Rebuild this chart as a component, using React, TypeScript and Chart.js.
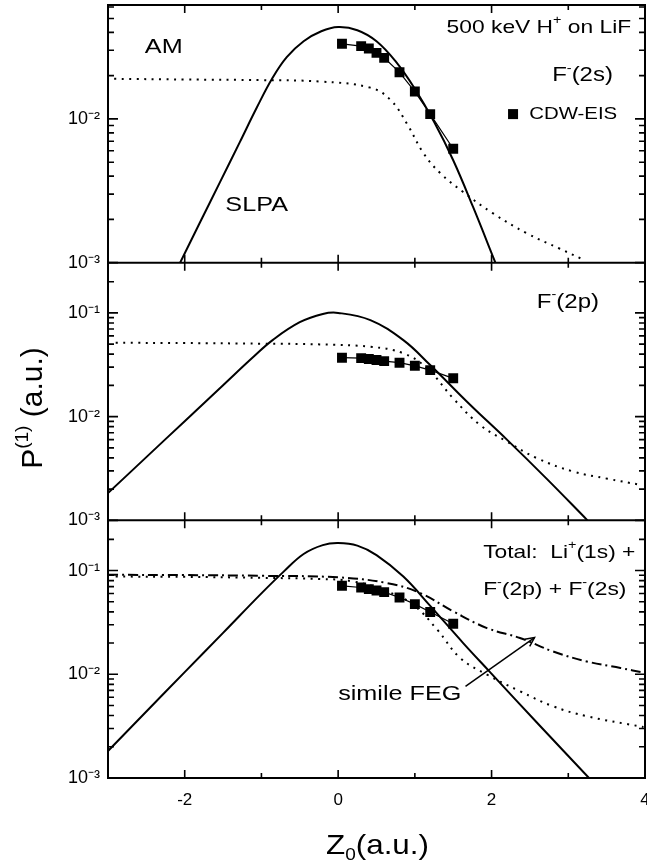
import React, { useEffect, useRef } from 'react';
import { Chart, registerables } from 'chart.js';

Chart.register(...registerables);

const FONT = '"Liberation Sans", Arial, Helvetica, sans-serif';

// x axis
const xMin = -3;
const xMax = 4;

// CDW-EIS abscissae (shared by all panels)
const cdwX = [0.05, 0.3, 0.4, 0.5, 0.6, 0.8, 1.0, 1.2, 1.5];

// Panel 1: F-(2s)
const slpa2sX = [-2.06, -1.8, -1.54, -1.28, -1.06, -0.86, -0.67, -0.45, -0.22, 0.0, 0.25, 0.5, 0.75, 1.0, 1.25, 1.5, 1.76, 2.05];
const slpa2sY = [0.001, 0.00191, 0.00363, 0.00692, 0.012, 0.0191, 0.0269, 0.0347, 0.0407, 0.0435, 0.0414, 0.0347, 0.0251, 0.0162, 0.00955, 0.00516, 0.00243, 0.001];
const am2sX = [-2.92, -2.0, -1.0, -0.24, 0.42, 0.68, 0.9, 1.11, 1.33, 1.63, 2.02, 2.46, 2.89, 3.18];
const am2sY = [0.019, 0.0188, 0.0186, 0.0182, 0.0165, 0.0136, 0.0092, 0.0058, 0.0042, 0.0031, 0.0022, 0.0016, 0.00125, 0.00106];
const cdw2sY = [0.0333, 0.0321, 0.0309, 0.0288, 0.0266, 0.0211, 0.0155, 0.0108, 0.0062];

// Panel 2: F-(2p)
const slpa2pX = [-3.0, -2.5, -2.0, -1.5, -1.1, -0.85, -0.5, -0.2, 0.0, 0.42, 0.85, 1.2, 1.72, 2.2, 2.72, 3.25];
const slpa2pY = [0.00183, 0.00407, 0.00904, 0.0201, 0.038, 0.055, 0.0813, 0.0977, 0.1, 0.0851, 0.0546, 0.0314, 0.013, 0.006, 0.00251, 0.001];
const am2pX = [-2.9, -2.0, -1.0, -0.24, 0.42, 0.85, 1.16, 1.5, 1.85, 2.2, 2.59, 3.06, 3.51, 3.94];
const am2pY = [0.0515, 0.0512, 0.0505, 0.0497, 0.0471, 0.0408, 0.0292, 0.015, 0.0083, 0.00575, 0.00398, 0.00296, 0.00252, 0.0022];
const cdw2pY = [0.037, 0.0366, 0.0359, 0.0351, 0.0343, 0.0331, 0.0309, 0.0281, 0.0234];

// Panel 3: Total
const slpaTotX = [-3.0, -2.5, -2.0, -1.5, -1.0, -0.71, -0.45, -0.2, 0.0, 0.25, 0.5, 0.85, 1.2, 1.63, 1.98, 2.59, 3.27];
const slpaTotY = [0.00182, 0.00437, 0.0105, 0.0251, 0.0603, 0.0977, 0.1445, 0.176, 0.184, 0.174, 0.141, 0.0875, 0.0457, 0.02, 0.0105, 0.00343, 0.001];
const amTotX = [-2.9, -2.0, -1.0, -0.24, 0.2, 0.64, 0.98, 1.29, 1.59, 1.94, 2.37, 2.8, 3.24, 3.98];
const amTotY = [0.0875, 0.087, 0.085, 0.083, 0.0784, 0.0628, 0.0467, 0.027, 0.0144, 0.00993, 0.00687, 0.00492, 0.00394, 0.0031];
const fegX = [-3.0, -2.0, -1.0, 0.0, 0.64, 1.07, 1.5, 1.94, 2.37, 2.8, 3.24, 3.68, 4.0];
const fegY = [0.091, 0.0905, 0.089, 0.086, 0.0757, 0.0607, 0.0404, 0.0279, 0.0224, 0.0166, 0.0133, 0.0115, 0.0103];
const cdwTotY = [0.0713, 0.0687, 0.0663, 0.0643, 0.0619, 0.055, 0.0475, 0.0398, 0.0307];

// y-axis ranges
const yMin = 0.001;
const yMax2s = 0.062;
const yMax2p = 0.305;
const yMaxTot = 0.305;

const pts = (xs: number[], ys: number[]) => xs.map((x, i) => ({ x, y: ys[i] }));

const curve = (xs: number[], ys: number[], axis: string, dash: number[]) => ({
  data: pts(xs, ys), yAxisID: axis, showLine: true, borderColor: '#000', borderWidth: 2,
  borderDash: dash, pointRadius: 0, tension: 0.4, fill: false,
});
const squares = (xs: number[], ys: number[], axis: string) => ({
  data: pts(xs, ys), yAxisID: axis, showLine: true, borderColor: '#000', borderWidth: 1.2,
  pointStyle: 'rect', pointRadius: 7, pointBorderWidth: 0, pointBackgroundColor: '#000', fill: false,
});

type Seg = { t: string; s?: 'sup' | 'sub' };

function drawRich(ctx: CanvasRenderingContext2D, segs: Seg[], x: number, y: number, size: number,
  align: 'left' | 'right' | 'center', stretch = 1.2, rotate = 0) {
  ctx.save();
  ctx.translate(x, y);
  if (rotate) ctx.rotate(rotate);
  ctx.scale(stretch, 1);
  ctx.fillStyle = '#000';
  ctx.textBaseline = 'middle';
  ctx.textAlign = 'left';
  const fontFor = (s: Seg) => `${s.s ? Math.round(size * 0.62) : size}px ${FONT}`;
  const widths = segs.map((s) => { ctx.font = fontFor(s); return ctx.measureText(s.t).width; });
  const total = widths.reduce((a, b) => a + b, 0);
  let cx = align === 'left' ? 0 : align === 'right' ? -total : -total / 2;
  segs.forEach((s, i) => {
    ctx.font = fontFor(s);
    const dy = s.s === 'sup' ? -size * 0.36 : s.s === 'sub' ? size * 0.32 : 0;
    ctx.fillText(s.t, cx, dy);
    cx += widths[i];
  });
  ctx.restore();
}

// annotation placement (data coordinates of each panel)
const labels = [
  { axis: 'y1', x: -2.52, y: 0.0314, segs: [{ t: 'AM' }], size: 21, align: 'left' },
  { axis: 'y1', x: -1.47, y: 0.00251, segs: [{ t: 'SLPA' }], size: 21, align: 'left' },
  { axis: 'y1', x: 3.82, y: 0.0433, segs: [{ t: '500 keV H' }, { t: '+', s: 'sup' }, { t: ' on LiF' }], size: 19, align: 'right' },
  { axis: 'y1', x: 2.79, y: 0.02, segs: [{ t: 'F' }, { t: '-', s: 'sup' }, { t: '(2s)' }], size: 20, align: 'left' },
  { axis: 'y1', x: 2.49, y: 0.0108, segs: [{ t: 'CDW-EIS' }], size: 17, align: 'left' },
  { axis: 'y2', x: 2.59, y: 0.127, segs: [{ t: 'F' }, { t: '-', s: 'sup' }, { t: '(2p)' }], size: 20, align: 'left' },
  { axis: 'y3', x: 1.89, y: 0.148, segs: [{ t: 'Total:  Li' }, { t: '+', s: 'sup' }, { t: '(1s) +' }], size: 19, align: 'left' },
  { axis: 'y3', x: 1.89, y: 0.0652, segs: [{ t: 'F' }, { t: '-', s: 'sup' }, { t: '(2p) + F' }, { t: '-', s: 'sup' }, { t: '(2s)' }], size: 19, align: 'left' },
  { axis: 'y3', x: 0.0, y: 0.00638, segs: [{ t: 'simile FEG' }], size: 21, align: 'left' },
];
const legendMark = { axis: 'y1', x: 2.28, y: 0.0108 };
const arrow = { axis: 'y3', x0: 1.66, y0: 0.00764, x1: 2.56, y1: 0.0226 };

const framePlugin = {
  id: 'frame',
  afterDraw(chart: any) {
    const { ctx, chartArea: ca, scales } = chart;
    const xs = scales.x;
    const panels = [scales.y1, scales.y2, scales.y3];
    ctx.save();
    ctx.strokeStyle = '#000';
    ctx.lineWidth = 2;
    ctx.strokeRect(ca.left, ca.top, ca.right - ca.left, ca.bottom - ca.top);
    panels.forEach((p: any) => {
      ctx.beginPath(); ctx.moveTo(ca.left, p.bottom); ctx.lineTo(ca.right, p.bottom); ctx.stroke();
    });
    ctx.lineWidth = 1.6;
    // x ticks
    panels.forEach((p: any) => {
      xs.ticks.forEach((t: any) => {
        const v = t.value;
        if (v <= xMin || v >= xMax) return;
        const px = xs.getPixelForValue(v);
        const len = Math.abs(v % 2) < 1e-9 ? 8 : 5;
        ctx.beginPath();
        ctx.moveTo(px, p.top); ctx.lineTo(px, p.top + len);
        ctx.moveTo(px, p.bottom); ctx.lineTo(px, p.bottom - len);
        ctx.stroke();
      });
    });
    // y ticks
    panels.forEach((p: any) => {
      p.ticks.forEach((t: any) => {
        const v = t.value;
        const e = Math.floor(Math.log10(v) + 1e-9);
        const m = v / Math.pow(10, e);
        if (Math.abs(m - Math.round(m)) > 1e-6) return;
        const py = p.getPixelForValue(v);
        if (py < p.top + 1) return;
        const len = Math.round(m) === 1 ? 10 : 6;
        ctx.beginPath();
        ctx.moveTo(ca.left, py); ctx.lineTo(ca.left + len, py);
        ctx.moveTo(ca.right, py); ctx.lineTo(ca.right - len, py);
        ctx.stroke();
      });
    });
    // annotations
    labels.forEach((l: any) => {
      const px = xs.getPixelForValue(l.x);
      const py = scales[l.axis].getPixelForValue(l.y);
      drawRich(ctx, l.segs, px, py, l.size, l.align, 1.2);
    });
    // legend marker
    {
      const px = xs.getPixelForValue(legendMark.x);
      const py = scales[legendMark.axis].getPixelForValue(legendMark.y);
      ctx.fillStyle = '#000';
      ctx.fillRect(px - 5, py - 5, 10, 10);
    }
    // arrow
    {
      const ys = scales[arrow.axis];
      const ax0 = xs.getPixelForValue(arrow.x0), ay0 = ys.getPixelForValue(arrow.y0);
      const ax1 = xs.getPixelForValue(arrow.x1), ay1 = ys.getPixelForValue(arrow.y1);
      ctx.lineWidth = 1.5;
      ctx.beginPath(); ctx.moveTo(ax0, ay0); ctx.lineTo(ax1, ay1); ctx.stroke();
      const ang = Math.atan2(ay1 - ay0, ax1 - ax0);
      const hl = 10;
      ctx.beginPath();
      ctx.moveTo(ax1 - hl * Math.cos(ang - 0.45), ay1 - hl * Math.sin(ang - 0.45));
      ctx.lineTo(ax1, ay1);
      ctx.lineTo(ax1 - hl * Math.cos(ang + 0.45), ay1 - hl * Math.sin(ang + 0.45));
      ctx.stroke();
    }
    // axis titles
    drawRich(ctx, [{ t: 'Z' }, { t: '0', s: 'sub' }, { t: '(a.u.)' }], (ca.left + ca.right) / 2 + 1, 846, 28, 'center', 1.12);
    drawRich(ctx, [{ t: 'P' }, { t: '(1)', s: 'sup' }, { t: ' (a.u.)' }], 34, 408, 30, 'center', 1.0, -Math.PI / 2);
    ctx.restore();
  },
};

const supDigits: Record<string, string> = { '-': '⁻', '0': '⁰', '1': '¹', '2': '²', '3': '³', '4': '⁴', '5': '⁵' };
const logLabel = (v: number) => {
  const e = Math.log10(v);
  if (Math.abs(e - Math.round(e)) > 1e-6) return '';
  return '10' + String(Math.round(e)).split('').map((c) => supDigits[c] || c).join('');
};

const noPad = (s: any) => {
  s.paddingTop = 0; s.paddingBottom = 0; s.paddingLeft = 0; s.paddingRight = 0;
};

const yAxis = (max: number, weight: number) => ({
  type: 'logarithmic', min: yMin, max, position: 'left', stack: 'panels', stackWeight: 1, weight,
  grid: { display: false, drawTicks: false }, border: { display: false },
  ticks: { autoSkip: false, padding: 8, color: '#000', font: { family: FONT, size: 18 }, callback: (v: any) => logLabel(Number(v)) },
  afterFit: (s: any) => { s.width = 108; noPad(s); },
});

export default function App() {
  const ref = useRef<HTMLCanvasElement | null>(null);
  useEffect(() => {
    if (!ref.current) return;
    const chart = new Chart(ref.current, {
      type: 'scatter',
      data: {
        datasets: [
          curve(slpa2sX, slpa2sY, 'y1', []),
          curve(am2sX, am2sY, 'y1', [2, 5.5]),
          squares(cdwX, cdw2sY, 'y1'),
          curve(slpa2pX, slpa2pY, 'y2', []),
          curve(am2pX, am2pY, 'y2', [2, 5.5]),
          squares(cdwX, cdw2pY, 'y2'),
          curve(slpaTotX, slpaTotY, 'y3', []),
          curve(amTotX, amTotY, 'y3', [2, 5.5]),
          curve(fegX, fegY, 'y3', [10, 4, 2, 4]),
          squares(cdwX, cdwTotY, 'y3'),
        ] as any,
      },
      options: {
        animation: false,
        responsive: false,
        maintainAspectRatio: false,
        layout: { autoPadding: false, padding: { top: 5, right: 2, left: 0, bottom: 0 } },
        plugins: { legend: { display: false }, tooltip: { enabled: false } },
        scales: {
          x: {
            type: 'linear', min: xMin, max: xMax, position: 'bottom',
            grid: { display: false, drawTicks: false }, border: { display: false },
            ticks: {
              stepSize: 1, autoSkip: false, maxRotation: 0, padding: 12, color: '#000',
              font: { family: FONT, size: 17 },
              callback: (v: any) => (Math.abs(Number(v) % 2) < 1e-9 && Number(v) > xMin ? String(v) : ''),
            },
            afterFit: (s: any) => { s.height = 89; noPad(s); },
          },
          y1: yAxis(yMax2s, 3),
          y2: yAxis(yMax2p, 2),
          y3: yAxis(yMaxTot, 1),
        } as any,
      } as any,
      plugins: [framePlugin],
    });
    return () => chart.destroy();
  }, []);
  return (
    <div style={{ position: 'fixed', left: 0, top: 0, width: 647, height: 867, background: '#fff' }}>
      <canvas ref={ref} width={647} height={867} />
    </div>
  );
}
